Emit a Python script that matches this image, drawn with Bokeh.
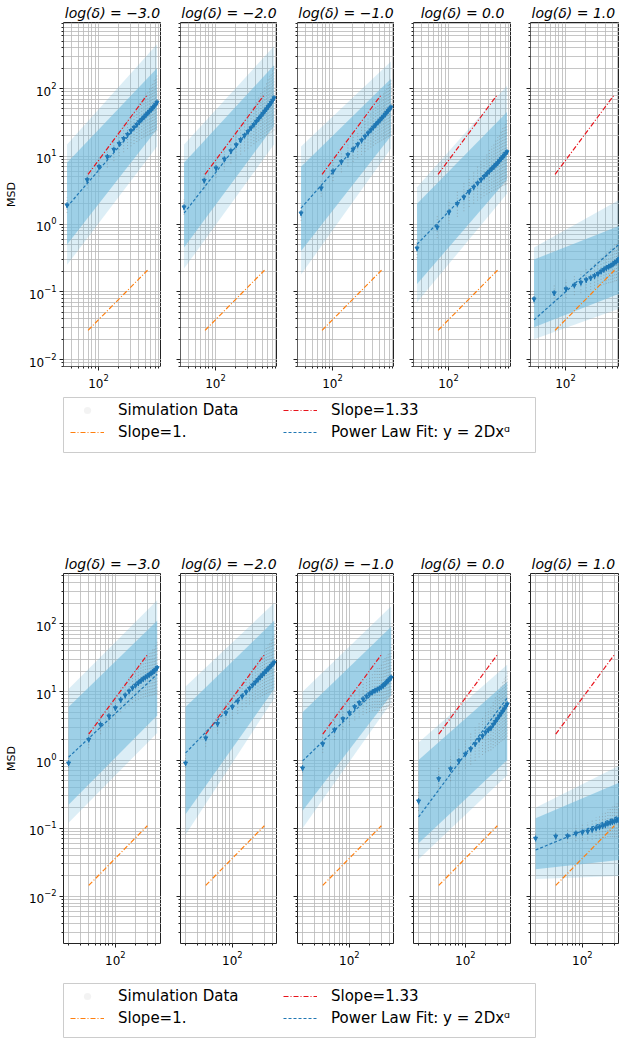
import numpy as np
from bokeh.plotting import figure
from bokeh.layouts import column, row
from bokeh.models import FixedTicker, Legend, LegendItem, Range1d
from bokeh.embed import file_html
from bokeh.resources import INLINE

FONT = "DejaVu Sans"

# ---------------- data ----------------
delta_labels = ["\u22123.0", "\u22122.0", "\u22121.0", "0.0", "1.0"]

lags_top = [34, 68, 102, 136, 170, 204, 238, 272, 306, 340, 374, 408, 442, 476,
            510, 544, 578, 612, 646, 680, 714, 748]
lags_bottom = [20, 40, 60, 80, 100, 120, 140, 160, 180, 200, 220, 240, 260, 280,
               300, 320, 340, 360, 380, 400, 420]

# mean MSD, top row
msd_top_m3 = [1.9, 4.5, 7.0, 9.8, 12.6, 15.4, 18.2, 21.0, 23.8, 26.6, 29.4, 32.2, 35.0,
              37.8, 40.6, 43.4, 46.2, 49.0, 52.0, 55.0, 58.5, 62.5]
msd_top_m2 = [1.78, 4.4, 6.7, 9.1, 12.0, 14.7, 17.5, 20.3, 23.2, 26.2, 29.3, 32.5, 35.8,
              39.2, 42.7, 46.3, 50.0, 53.8, 57.7, 62.0, 67.0, 72.5]
msd_top_m1 = [1.45, 3.4, 6.0, 8.3, 10.5, 12.7, 14.9, 17.2, 19.6, 22.0, 24.4, 26.8, 29.2,
              31.6, 34.0, 36.5, 39.0, 41.6, 44.3, 47.1, 50.0, 53.0]
msd_top_0 = [0.44, 0.9, 1.5, 2.0, 2.5, 3.0, 3.5, 4.0, 4.5, 5.0, 5.5, 6.0, 6.5, 7.0, 7.5,
             8.0, 8.6, 9.2, 9.8, 10.4, 11.0, 11.6]
msd_top_p1 = [0.078, 0.096, 0.11, 0.125, 0.137, 0.15, 0.16, 0.172, 0.185, 0.2, 0.213,
              0.225, 0.235, 0.245, 0.255, 0.27, 0.28, 0.295, 0.31, 0.325, 0.34, 0.355]

# mean MSD, bottom row
msd_bot_m3 = [0.9, 2.0, 3.3, 4.4, 5.8, 7.6, 8.9, 10.2, 11.4, 12.5, 13.5, 14.5, 15.5, 16.3,
              17.0, 17.8, 18.6, 19.4, 20.3, 21.3, 22.5]
msd_bot_m2 = [0.9, 2.1, 3.4, 4.9, 6.0, 7.3, 8.6, 9.9, 11.2, 12.5, 13.8, 15.1, 16.4, 17.7,
              19.0, 20.3, 21.6, 22.9, 24.2, 25.6, 27.0]
msd_bot_m1 = [0.76, 1.72, 2.76, 4.0, 4.9, 6.0, 6.9, 7.8, 8.6, 9.3, 9.9, 10.4, 10.8, 11.2,
              11.7, 12.3, 13.0, 13.8, 14.6, 15.4, 16.2]
msd_bot_0 = [0.25, 0.53, 0.74, 0.97, 1.22, 1.45, 1.72, 2.0, 2.25, 2.55, 2.76, 2.95, 3.3,
             3.65, 4.0, 4.4, 4.8, 5.2, 5.6, 6.1, 6.6]
msd_bot_p1 = [0.071, 0.076, 0.077, 0.084, 0.087, 0.09, 0.095, 0.1, 0.104, 0.108, 0.112,
              0.118, 0.121, 0.124, 0.127, 0.13, 0.133, 0.136, 0.139, 0.142, 0.145]

# power-law fit y = 2 D x^alpha
fit_D_top = [0.0159, 0.00818, 0.0168, 0.0069, 0.000865]
fit_alpha_top = [1.144, 1.271, 1.116, 1.02, 0.88]
fit_D_bot = [0.0349, 0.0308, 0.0286, 0.0014, 0.00724]
fit_alpha_bot = [0.92, 1.01, 0.945, 1.32, 0.40]

# simulation cloud bounds at first / last lag
cloud_outer_lo_top = [[0.25, 14], [0.22, 15], [0.18, 13], [0.07, 2.8], [0.02, 0.06]]
cloud_outer_hi_top = [[15, 450], [15, 420], [14, 250], [3.5, 110], [0.45, 2.5]]
cloud_inner_lo_top = [[0.5, 25], [0.45, 28], [0.4, 20], [0.13, 4.5], [0.03, 0.1]]
cloud_inner_hi_top = [[8, 200], [8, 220], [7, 140], [2.0, 45], [0.3, 1.0]]
cloud_outer_lo_bot = [[0.12, 2.5], [0.08, 8], [0.1, 7], [0.035, 0.6], [0.018, 0.02]]
cloud_outer_hi_bot = [[11, 220], [12, 200], [10, 180], [1.8, 25], [0.2, 0.9]]
cloud_inner_lo_bot = [[0.22, 4.5], [0.16, 11], [0.18, 9], [0.06, 1.0], [0.025, 0.035]]
cloud_inner_hi_bot = [[6, 110], [6, 110], [5, 90], [1.0, 14], [0.14, 0.5]]

# spread of individual trajectories (factor at first / last lag)
spread_top = [[1.3, 2.6], [1.3, 3.0], [1.3, 2.6], [1.4, 3.0], [1.3, 2.2]]
spread_bot = [[1.3, 2.4], [1.3, 2.6], [1.3, 2.8], [1.4, 3.0], [1.2, 2.0]]

# reference slope lines: x extent and value at first x
slope_x_top = [70, 540]
slope133_y0_top = 5.4
slope1_y0_top = 0.027
slope_x_bot = [40, 300]
slope133_y0_bot = 2.4
slope1_y0_bot = 0.0145

# ---------------- styling / layout ----------------
BLUE = "#1f77b4"
CLOUD = "#74bcdd"
RED = "#e8141c"
ORANGE = "#ff7f0e"
PX_PER_DEC = 67.0
frame_widths = [98, 97, 97, 98, 89]
left_borders = [63, 19, 20, 19, 19]

x_major = [100]
x_minor = [b * m for b in (10, 100) for m in range(2, 10)]
y_major = [0.01, 0.1, 1, 10, 100]
y_minor = [10.0 ** e * m for e in range(-3, 3) for m in range(2, 10)]

rows_cfg = [
    dict(lags=lags_top, means=[msd_top_m3, msd_top_m2, msd_top_m1, msd_top_0, msd_top_p1],
         D=fit_D_top, al=fit_alpha_top,
         olo=cloud_outer_lo_top, ohi=cloud_outer_hi_top,
         ilo=cloud_inner_lo_top, ihi=cloud_inner_hi_top, spread=spread_top,
         sx=slope_x_top, s133=slope133_y0_top, s1=slope1_y0_top,
         xmin=30.1, yr=(0.0079, 944), fh=344, top=22, bottom=26),
    dict(lags=lags_bottom, means=[msd_bot_m3, msd_bot_m2, msd_bot_m1, msd_bot_0, msd_bot_p1],
         D=fit_D_bot, al=fit_alpha_bot,
         olo=cloud_outer_lo_bot, ohi=cloud_outer_hi_bot,
         ilo=cloud_inner_lo_bot, ihi=cloud_inner_hi_bot, spread=spread_bot,
         sx=slope_x_bot, s133=slope133_y0_bot, s1=slope1_y0_bot,
         xmin=16.8, yr=(0.00204, 543), fh=370, top=28, bottom=30),
]


def build_row(cfg):
    figs = []
    lags = np.array(cfg["lags"], dtype=float)
    for i in range(5):
        fw = frame_widths[i]
        xr = Range1d(cfg["xmin"], 10 ** (np.log10(cfg["xmin"]) + fw / PX_PER_DEC))
        p = figure(x_axis_type="log", y_axis_type="log", x_range=xr,
                   y_range=Range1d(*cfg["yr"]), frame_width=fw, frame_height=cfg["fh"],
                   min_border_left=left_borders[i], min_border_right=0,
                   min_border_top=cfg["top"], min_border_bottom=cfg["bottom"],
                   output_backend="svg", toolbar_location=None,
                   title="log(\u03b4) = " + delta_labels[i])
        p.title.text_font = FONT
        p.title.text_font_size = "14px"
        p.title.text_font_style = "italic"
        p.title.text_color = "black"
        p.title.standoff = 3
        if i == 4:
            p.title.align = "left"
            p.title.offset = 1
        else:
            p.title.align = "center"
        p.outline_line_color = "#222222"
        p.outline_line_width = 1
        p.background_fill_color = "white"
        p.border_fill_color = "white"

        p.xaxis.ticker = FixedTicker(ticks=x_major, minor_ticks=x_minor)
        p.yaxis.ticker = FixedTicker(ticks=y_major, minor_ticks=y_minor)
        for ax in (p.xaxis, p.yaxis):
            ax.axis_line_color = None
            ax.major_tick_in = 0
            ax.major_tick_out = 4
            ax.minor_tick_in = 0
            ax.minor_tick_out = 2
            ax.major_tick_line_color = "#222222"
            ax.minor_tick_line_color = "#222222"
            ax.major_label_text_font = FONT
            ax.major_label_text_font_size = "12px"
            ax.major_label_text_color = "black"
            ax.major_label_standoff = 3
        if i == 0:
            p.yaxis.axis_label = "MSD"
            p.yaxis.axis_label_text_font = FONT
            p.yaxis.axis_label_text_font_size = "11px"
            p.yaxis.axis_label_text_font_style = "normal"
            p.yaxis.axis_label_text_color = "black"
            p.yaxis.axis_label_standoff = 8
        else:
            p.yaxis.major_label_overrides = {v: "" for v in y_major}
            p.yaxis.major_label_standoff = 0
        for g in (p.xgrid, p.ygrid):
            g.grid_line_color = "#b8b8b8"
            g.grid_line_alpha = 0.8
            g.minor_grid_line_color = "#b8b8b8"
            g.minor_grid_line_alpha = 0.8
            g.grid_line_width = 1
            g.minor_grid_line_width = 1

        ends = [lags[0], lags[-1]]
        # simulation cloud
        p.varea(x=ends, y1=cfg["olo"][i], y2=cfg["ohi"][i], fill_color=CLOUD, fill_alpha=0.25)
        p.varea(x=ends, y1=cfg["ilo"][i], y2=cfg["ihi"][i], fill_color=CLOUD, fill_alpha=0.6)

        means = np.array(cfg["means"][i])
        s0, s1 = cfg["spread"][i]
        n = len(lags)
        fac = np.array([s0 * (s1 / s0) ** (k / (n - 1)) for k in range(n)])
        p.segment(x0=lags, y0=means / fac, x1=lags, y1=means * fac,
                  line_color="#7a7a7a", line_alpha=0.45, line_width=1, line_dash="1 2")

        # reference slopes
        sx = np.array(cfg["sx"], dtype=float)
        p.line(sx, cfg["s1"] * (sx / sx[0]) ** 1.0, line_color=ORANGE, line_width=1.2,
               line_dash="5 2 1 2")
        p.line(sx, cfg["s133"] * (sx / sx[0]) ** 1.33, line_color=RED, line_width=1.2,
               line_dash="5 2 1 2")

        # power-law fit
        fit_y = 2 * cfg["D"][i] * lags ** cfg["al"][i]
        p.line(lags, fit_y, line_color=BLUE, line_width=1.2, line_dash="3 2")

        # mean points with small error bars
        p.segment(x0=lags, y0=means * 0.9, x1=lags, y1=means * 1.1,
                  line_color=BLUE, line_width=1.2)
        p.scatter(lags, means, marker="inverted_triangle", size=4,
                  fill_color=BLUE, line_color=BLUE)
        figs.append(p)
    return row(*figs)


def build_legend(top, bottom):
    lf = figure(frame_width=472, frame_height=55, min_border_left=63, min_border_right=84,
                min_border_top=top, min_border_bottom=bottom,
                x_range=Range1d(0, 1), y_range=Range1d(0, 1),
                x_axis_location=None, y_axis_location=None,
                output_backend="svg", toolbar_location=None)
    lf.grid.visible = False
    lf.outline_line_color = "#cccccc"
    lf.outline_line_width = 1
    lf.background_fill_color = "white"
    lf.border_fill_color = "white"
    r_sim = lf.scatter(x=[2], y=[2], size=1.5, fill_color="#9a9a9a", line_color=None,
                       fill_alpha=0.12)
    r_s1 = lf.line(x=[2, 3], y=[2, 3], line_color=ORANGE, line_width=1.2, line_dash="5 2 1 2")
    r_s133 = lf.line(x=[2, 3], y=[2, 3], line_color=RED, line_width=1.2, line_dash="5 2 1 2")
    r_fit = lf.line(x=[2, 3], y=[2, 3], line_color=BLUE, line_width=1.2, line_dash="3 2")
    common = dict(border_line_color=None, background_fill_alpha=0, padding=0, margin=0,
                  spacing=4, glyph_width=34, glyph_height=18, label_height=18,
                  label_standoff=14, label_text_font=FONT, label_text_font_size="15px",
                  label_text_color="black")
    legA = Legend(items=[LegendItem(label="Simulation Data", renderers=[r_sim]),
                         LegendItem(label="Slope=1.", renderers=[r_s1])],
                  location=(7, 11), **common)
    legB = Legend(items=[LegendItem(label="Slope=1.33", renderers=[r_s133]),
                         LegendItem(label="Power Law Fit: y = 2Dx\u1d45", renderers=[r_fit])],
                  location=(220, 11), **common)
    lf.add_layout(legA)
    lf.add_layout(legB)
    return lf


layout = column(
    build_row(rows_cfg[0]),
    build_legend(5, 93),
    build_row(rows_cfg[1]),
    build_legend(10, 0),
)

open("out.html", "w").write(file_html(layout, INLINE))
